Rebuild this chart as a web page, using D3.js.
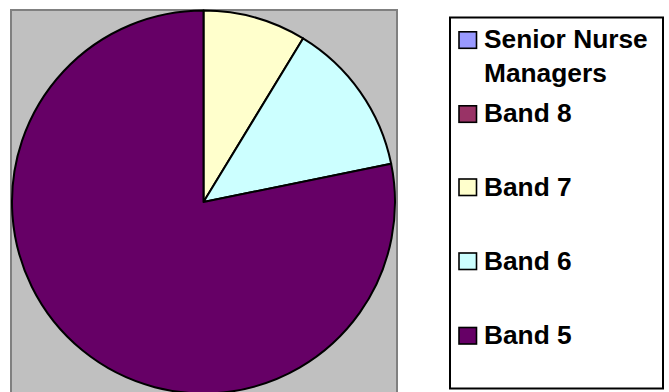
<!DOCTYPE html>
<html><head><meta charset="utf-8">
<script src="https://cdn.jsdelivr.net/npm/d3@7/dist/d3.min.js"></script>
<style>body{margin:0;background:#fff;}svg{display:block;}</style>
</head><body>
<script>
const categories = ["Senior Nurse Managers", "Band 8", "Band 7", "Band 6", "Band 5"];
const values = [0, 0, 8.7, 13.1, 78.2];
const colors = ["#9999FF", "#993366", "#FFFFCC", "#CCFFFF", "#660066"];
const legendLines = [["Senior Nurse", "Managers"], ["Band 8"], ["Band 7"], ["Band 6"], ["Band 5"]];

const W = 669, H = 392;
const svg = d3.select("body").append("svg").attr("width", W).attr("height", H);

// plot area
svg.append("rect").attr("x", 11).attr("y", 10).attr("width", 386).attr("height", 400)
  .attr("fill", "#C0C0C0").attr("stroke", "#808080").attr("stroke-width", 2);

const cx = 203.5, cy = 202, r = 191.5;
const pie = d3.pie().sort(null).value(d => d.v);
const arc = d3.arc().innerRadius(0).outerRadius(r);
const data = categories.map((c, i) => ({c, v: values[i], col: colors[i]}));
const g = svg.append("g").attr("transform", `translate(${cx},${cy})`);
g.selectAll("path").data(pie(data).filter(d => d.data.v > 0)).join("path")
  .attr("d", arc).attr("fill", d => d.data.col)
  .attr("stroke", "#000").attr("stroke-width", 2).attr("stroke-linejoin", "round");

// legend
svg.append("rect").attr("x", 450).attr("y", 17.5).attr("width", 213).attr("height", 371)
  .attr("fill", "#fff").attr("stroke", "#000").attr("stroke-width", 2);

const baselines = [48.3, 122.3, 195.5, 269.5, 344];
const lg = svg.append("g");
categories.forEach((c, i) => {
  const b = baselines[i];
  lg.append("rect").attr("x", 459).attr("y", b - 16.5).attr("width", 17.5).attr("height", 16.5)
    .attr("fill", colors[i]).attr("stroke", "#000").attr("stroke-width", 1.6);
  const t = lg.append("text").attr("x", 484).attr("y", b)
    .attr("font-family", "Liberation Sans, Arial, sans-serif").attr("font-weight", "bold")
    .attr("font-size", 26.3).attr("fill", "#000");
  legendLines[i].forEach((ln, j) => {
    t.append("tspan").attr("x", 484).attr("dy", j === 0 ? 0 : 33.4).text(ln);
  });
});
</script>
</body></html>
